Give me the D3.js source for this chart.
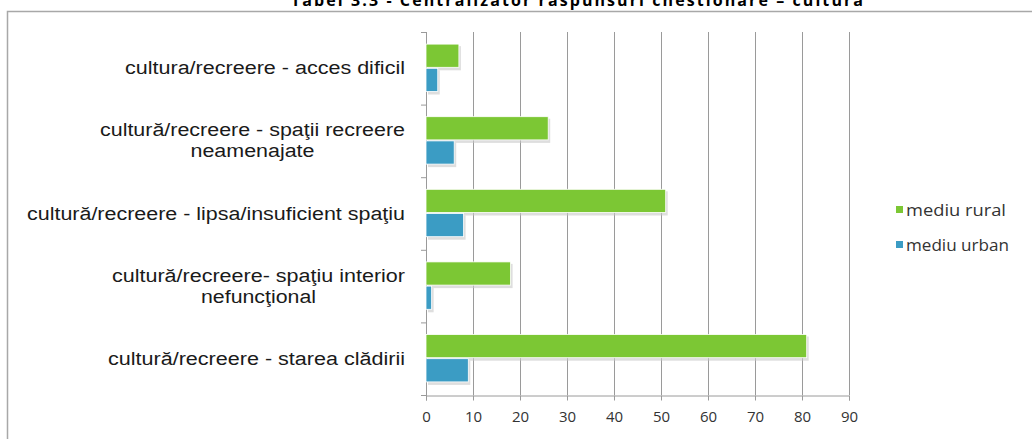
<!DOCTYPE html>
<meta charset="utf-8">
<style>
  body { margin: 0; background: #fff; }
  text { font-family: "Liberation Sans", Arial, sans-serif; }
  .tick text { font-family: "Open Sans", sans-serif; font-size: 15px; fill: #333; }
</style>
<body>
<svg width="1032" height="439"></svg>
<script src="https://d3js.org/d3.v7.min.js"></script>
<script>
  // categories top -> bottom
  var categories = [
    "cultura/recreere - acces dificil",
    "cultură/recreere - spaţii recreere neamenajate",
    "cultură/recreere - lipsa/insuficient spaţiu",
    "cultură/recreere- spaţiu interior nefuncţional",
    "cultură/recreere - starea clădirii"
  ];
  var labelLines = [
    ["cultura/recreere - acces dificil"],
    ["cultură/recreere - spaţii recreere", "neamenajate"],
    ["cultură/recreere - lipsa/insuficient spaţiu"],
    ["cultură/recreere- spaţiu interior", "nefuncţional"],
    ["cultură/recreere - starea clădirii"]
  ];
  // approximate rendered widths of each label line in the original
  var labelWidths = [[280], [305, 124], [378], [293, 115], [297]];
  var seriesNames = ["mediu rural", "mediu urban"];
  var rural = [7, 26, 51, 18, 81];
  var urban = [2.5, 6, 8, 1.2, 9];
  var xTicks = [0, 10, 20, 30, 40, 50, 60, 70, 80, 90];
  var colors = ["#7cc734", "#3b9cc4"];

  var svg = d3.select("svg");

  // title, cropped at the top of the picture
  svg.append("text")
      .attr("x", 577).attr("y", 6)
      .attr("text-anchor", "middle")
      .attr("textLength", 572)
      .style("font-family", "'Open Sans', sans-serif")
      .style("font-weight", "bold")
      .style("font-size", "16px")
      .text("Tabel 3.3 - Centralizator răspunsuri chestionare – cultură");

  // outer frame
  svg.append("rect")
      .attr("x", 7.5).attr("y", 11.5)
      .attr("width", 1100).attr("height", 500)
      .attr("fill", "none").attr("stroke", "#a8a8a8").attr("stroke-width", 1.5);

  var x = d3.scaleLinear().domain([0, 90]).range([426, 849]);
  var y = d3.scaleBand().domain(categories).range([32, 395]);
  var inner = d3.scaleBand().domain(seriesNames).range([0, y.bandwidth()]).paddingOuter(0.5).paddingInner(0);

  // gridlines
  svg.append("g").selectAll("line")
      .data(xTicks.slice(1))
      .enter().append("line")
      .attr("x1", function(d) { return x(d) + 0.5; })
      .attr("x2", function(d) { return x(d) + 0.5; })
      .attr("y1", 32).attr("y2", 395)
      .attr("stroke", "#9a9a9a");

  // x axis
  var xAxis = svg.append("g")
      .attr("transform", "translate(0,395.5)")
      .call(d3.axisBottom(x).tickValues(xTicks).tickSize(5).tickPadding(11));
  xAxis.select(".domain").attr("stroke", "#9a9a9a");
  xAxis.selectAll(".tick line").attr("stroke", "#9a9a9a");

  // y axis line and category ticks
  var yLine = svg.append("g");
  yLine.append("line")
      .attr("x1", 426.5).attr("x2", 426.5).attr("y1", 32).attr("y2", 396)
      .attr("stroke", "#9a9a9a");
  yLine.selectAll(".yt")
      .data(categories.concat(["end"]))
      .enter().append("line")
      .attr("x1", 421).attr("x2", 426)
      .attr("y1", function(d, i) { return 32 + i * y.step() + 0.5; })
      .attr("y2", function(d, i) { return 32 + i * y.step() + 0.5; })
      .attr("stroke", "#9a9a9a");

  var series = [rural, urban];
  series.forEach(function(vals, s) {
    var g = svg.append("g");
    // soft shadow
    g.selectAll(".sh")
        .data(vals)
        .enter().append("rect")
        .attr("x", x(0) + 2)
        .attr("y", function(d, i) { return y(categories[i]) + inner(seriesNames[s]) + 2; })
        .attr("width", function(d) { return x(d) - x(0); })
        .attr("height", inner.bandwidth())
        .attr("fill", "#c8c8c8").attr("opacity", 0.6);
    g.selectAll(".bar")
        .data(vals)
        .enter().append("rect")
        .attr("x", x(0))
        .attr("y", function(d, i) { return y(categories[i]) + inner(seriesNames[s]); })
        .attr("width", function(d) { return x(d) - x(0); })
        .attr("height", inner.bandwidth() - 1)
        .attr("fill", colors[s])
        .attr("stroke", "#fff").attr("stroke-width", 0.8);
  });

  // category labels, right edge at 405, second lines centred under first
  labelLines.forEach(function(lines, i) {
    var cy = y(categories[i]) + y.bandwidth() / 2;
    var lh = 21;
    var widest = labelWidths[i][0];
    lines.forEach(function(l, k) {
      var w = labelWidths[i][k];
      svg.append("text")
          .attr("x", 405 - widest / 2 - w / 2)
          .attr("y", cy + 6 + (k - (lines.length - 1) / 2) * lh)
          .attr("textLength", w)
          .attr("lengthAdjust", "spacingAndGlyphs")
          .style("font-size", "18px").attr("fill", "#1a1a1a")
          .text(l);
    });
  });

  // legend
  var legend = svg.append("g").selectAll("g")
      .data(seriesNames)
      .enter().append("g")
      .attr("transform", function(d, i) { return "translate(896," + (210 + i * 35) + ")"; });
  legend.append("rect")
      .attr("x", 0).attr("y", -4).attr("width", 7).attr("height", 7)
      .attr("fill", function(d, i) { return colors[i]; });
  legend.append("text")
      .attr("x", 10).attr("y", 6)
      .attr("textLength", function(d, i) { return i === 0 ? 100 : 103; })
      .attr("lengthAdjust", "spacingAndGlyphs")
      .style("font-family", "'Open Sans', sans-serif")
      .style("font-size", "16px").attr("fill", "#333")
      .text(function(d) { return d; });
</script>
</body>
